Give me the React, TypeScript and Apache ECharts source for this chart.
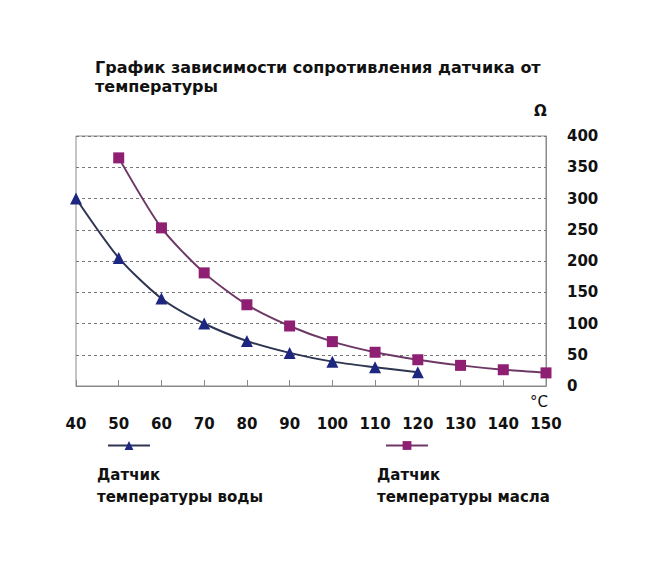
import React, { useEffect, useRef } from 'react';
import * as echarts from 'echarts';

const temps = [40, 50, 60, 70, 80, 90, 100, 110, 120, 130, 140, 150];
const waterTemps = [40, 50, 60, 70, 80, 90, 100, 110, 120];
const waterOhm = [300, 205, 140, 100, 72, 53, 39, 30, 22];
const oilTemps = [50, 60, 70, 80, 90, 100, 110, 120, 130, 140, 150];
const oilOhm = [365, 253, 181, 130, 96, 71, 54, 42, 33, 26, 21];
const yTicks = [0, 50, 100, 150, 200, 250, 300, 350, 400];

const title = ['График зависимости сопротивления датчика от', 'температуры'];
const waterName = 'Датчик температуры воды';
const oilName = 'Датчик температуры масла';

const FONT = '"DejaVu Sans", "Liberation Sans", Arial, sans-serif';

const App: React.FC = () => {
  const chartRef = useRef<HTMLDivElement | null>(null);

  useEffect(() => {
    document.body.style.margin = '0';
    const chart = echarts.init(chartRef.current!, undefined, { renderer: 'svg' });

    const option: echarts.EChartsOption = {
      animation: false,
      backgroundColor: '#fff',
      textStyle: { fontFamily: FONT },
      grid: {
        left: 76,
        right: 121,
        top: 136,
        bottom: 186,
        show: true,
        borderColor: '#8a8a8a',
        borderWidth: 1,
      },
      legend: [
        {
          data: [waterName],
          left: 107,
          top: 440,
          padding: 0,
          itemWidth: 42,
          itemHeight: 11,
          formatter: () => '',
          selectedMode: false,
        },
        {
          data: [oilName],
          left: 385,
          top: 440,
          padding: 0,
          itemWidth: 42,
          itemHeight: 11,
          formatter: () => '',
          selectedMode: false,
        },
      ],
      xAxis: {
        type: 'value',
        min: temps[0],
        max: temps[temps.length - 1],
        interval: 10,
        axisLine: { show: true, lineStyle: { color: '#8a8a8a' } },
        axisTick: { show: true, inside: true, length: 6, lineStyle: { color: '#8a8a8a' } },
        splitLine: { show: false },
        axisLabel: {
          margin: 30,
          color: '#111',
          fontWeight: 'bold',
          fontSize: 15,
          fontFamily: FONT,
          showMinLabel: true,
          showMaxLabel: true,
        },
      },
      yAxis: {
        type: 'value',
        position: 'right',
        min: yTicks[0],
        max: yTicks[yTicks.length - 1],
        interval: 50,
        axisLine: { show: true, lineStyle: { color: '#8a8a8a' } },
        axisTick: { show: false },
        splitLine: { show: true, lineStyle: { color: '#777', type: [3, 3], width: 1.2 } },
        axisLabel: {
          margin: 21,
          align: 'left',
          color: '#111',
          fontWeight: 'bold',
          fontSize: 15,
          fontFamily: FONT,
        },
      },
      series: [
        {
          name: waterName,
          type: 'line',
          data: waterTemps.map((t, i) => [t, waterOhm[i]]),
          smooth: 0.25,
          symbol: 'triangle',
          symbolSize: 12,
          lineStyle: { color: '#2e3553', width: 2 },
          itemStyle: { color: '#1d2780' },
          color: '#1d2780',
        },
        {
          name: oilName,
          type: 'line',
          data: oilTemps.map((t, i) => [t, oilOhm[i]]),
          smooth: 0.25,
          symbol: 'rect',
          symbolSize: 11,
          lineStyle: { color: '#6e3866', width: 2 },
          itemStyle: { color: '#8e1f72' },
          color: '#8e1f72',
        },
      ],
      graphic: [
        {
          type: 'text',
          left: 95,
          top: 58,
          style: {
            text: title.join('\n'),
            font: `bold 16px ${FONT}`,
            fill: '#111',
            lineHeight: 19,
          },
        },
        {
          type: 'text',
          left: 534,
          top: 103,
          style: { text: 'Ω', font: `bold 15px ${FONT}`, fill: '#111' },
        },
        {
          type: 'text',
          left: 530,
          top: 394,
          style: { text: '°C', font: `15px ${FONT}`, fill: '#111' },
        },
        {
          type: 'text',
          left: 97,
          top: 464,
          style: {
            text: 'Датчик\nтемпературы воды',
            font: `bold 15px ${FONT}`,
            fill: '#111',
            lineHeight: 22,
          },
        },
        {
          type: 'text',
          left: 377,
          top: 464,
          style: {
            text: 'Датчик\nтемпературы масла',
            font: `bold 15px ${FONT}`,
            fill: '#111',
            lineHeight: 22,
          },
        },
      ],
    };

    chart.setOption(option);

    return () => {
      chart.dispose();
    };
  }, []);

  return (
    <div
      ref={chartRef}
      style={{ width: '667px', height: '572px', position: 'absolute', top: 0, left: 0 }}
    />
  );
};

export default App;
